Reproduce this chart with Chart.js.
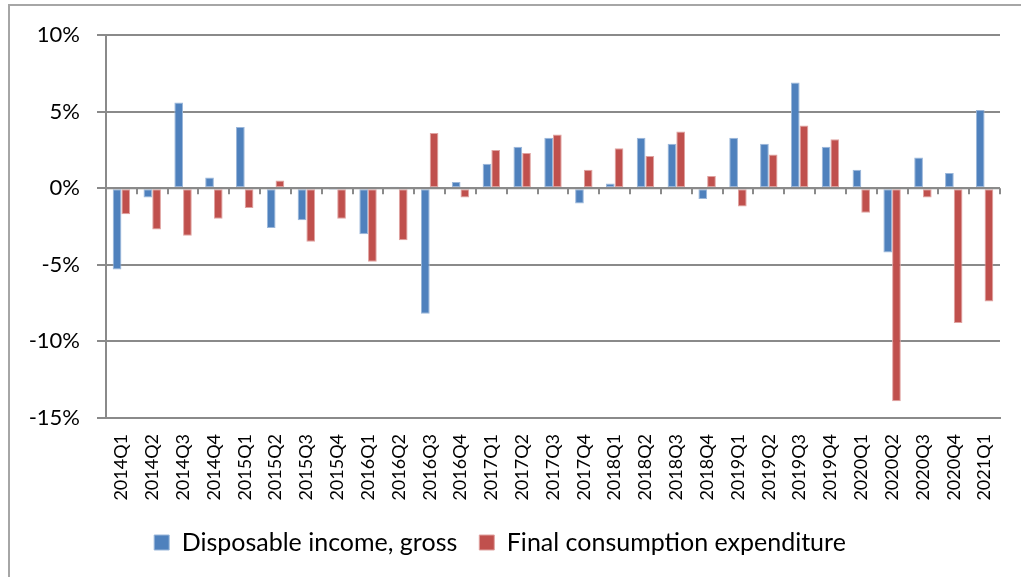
<!DOCTYPE html>
<html>
<head>
<meta charset="utf-8">
<script src="https://cdn.jsdelivr.net/npm/chart.js@4/dist/chart.umd.min.js"></script>
<style>
  body { margin: 0; background: #fff; }
  #frame { position: absolute; left: 8px; top: 4px; width: 1100px; height: 700px;
           border-left: 2px solid #a6a6a6; border-top: 2px solid #a6a6a6; }
  #wrap { position: absolute; left: 0; top: 0; width: 1021px; height: 577px; }
</style>
</head>
<body>
<div id="frame"></div>
<div id="wrap"><canvas id="myChart"></canvas></div>
<script>
// quarterly change, percent
const quarters = ['2014Q1', '2014Q2', '2014Q3', '2014Q4', '2015Q1', '2015Q2', '2015Q3', '2015Q4',
  '2016Q1', '2016Q2', '2016Q3', '2016Q4', '2017Q1', '2017Q2', '2017Q3', '2017Q4',
  '2018Q1', '2018Q2', '2018Q3', '2018Q4', '2019Q1', '2019Q2', '2019Q3', '2019Q4',
  '2020Q1', '2020Q2', '2020Q3', '2020Q4', '2021Q1'];

const disposableIncome = [-5.3, -0.6, 5.6, 0.7, 4.0, -2.6, -2.1, -0.1,
  -3.0, 0.1, -8.2, 0.4, 1.6, 2.7, 3.3, -1.0,
  0.3, 3.3, 2.9, -0.7, 3.3, 2.9, 6.9, 2.7,
  1.2, -4.2, 2.0, 1.0, 5.1];

const consumption = [-1.7, -2.7, -3.1, -2.0, -1.3, 0.5, -3.5, -2.0,
  -4.8, -3.4, 3.6, -0.6, 2.5, 2.3, 3.5, 1.2,
  2.6, 2.1, 3.7, 0.8, -1.2, 2.2, 4.1, 3.2,
  -1.6, -13.9, -0.6, -8.8, -7.4];

const yTicks = [-15, -10, -5, 0, 5, 10];

const gridColor = '#8a8a8a';

// little tick marks hanging from the zero line between quarters
const zeroTicks = {
  id: 'zeroTicks',
  afterDatasetsDraw(chart) {
    const x = chart.scales.x, y = chart.scales.y;
    const y0 = y.getPixelForValue(0);
    const step = x.getPixelForValue(1) - x.getPixelForValue(0);
    const c = chart.ctx;
    c.save();
    c.strokeStyle = gridColor;
    c.lineWidth = 2;
    c.beginPath();
    for (let i = 0; i <= quarters.length; i++) {
      const px = Math.round(x.getPixelForValue(i) - step / 2);
      c.moveTo(px, y0);
      c.lineTo(px, y0 + 6);
    }
    c.stroke();
    c.beginPath();
    c.moveTo(chart.chartArea.left, y0);
    c.lineTo(chart.chartArea.right, y0);
    c.stroke();
    c.restore();
  }
};

const ctx = document.getElementById('myChart');

new Chart(ctx, {
  type: 'bar',
  data: {
    labels: quarters,
    datasets: [{
      label: 'Disposable income, gross',
      data: disposableIncome,
      backgroundColor: '#4f81bd',
      borderColor: '#9bb7da',
      borderWidth: 1,
      borderSkipped: false
    }, {
      label: 'Final consumption expenditure',
      data: consumption,
      backgroundColor: '#c0504d',
      borderColor: '#e0a3a1',
      borderWidth: 1,
      borderSkipped: false
    }]
  },
  plugins: [zeroTicks],
  options: {
    responsive: true,
    maintainAspectRatio: false,
    animation: false,
    layout: { padding: { left: 0, right: 21, top: 35, bottom: 12 } },
    datasets: { bar: { categoryPercentage: 0.565, barPercentage: 1 } },
    scales: {
      x: {
        grid: { display: false },
        border: { color: gridColor, width: 2 },
        ticks: {
          color: '#000',
          font: { family: 'Lato', size: 18 },
          minRotation: 90, maxRotation: 90,
          padding: 8,
          autoSkip: false
        },
        afterFit(scale) { scale.height = 90; }
      },
      y: {
        min: -15, max: 10,
        afterBuildTicks(scale) { scale.ticks = yTicks.map(v => ({ value: v })); },
        grid: { color: gridColor, lineWidth: 2, tickLength: 9, drawTicks: true },
        border: { color: gridColor, width: 2 },
        ticks: {
          color: '#000',
          font: { family: 'Lato', size: 22 },
          padding: 17,
          callback: v => v + '%'
        },
        afterFit(scale) { scale.width = 106; }
      }
    },
    plugins: {
      legend: {
        position: 'bottom',
        labels: {
          color: '#000',
          font: { family: 'Lato', size: 25 },
          boxWidth: 15, boxHeight: 15,
          padding: 22
        }
      },
      tooltip: { enabled: false }
    }
  }
});
</script>
</body>
</html>
